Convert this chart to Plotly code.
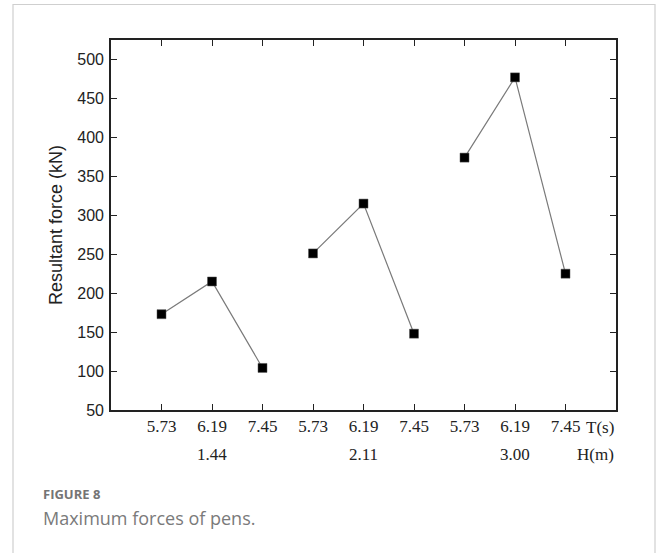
import plotly.graph_objects as go

# Wave period T (s) for each case, and the wave height H (m) group it belongs to
periods = ["5.73", "6.19", "7.45", "5.73", "6.19", "7.45", "5.73", "6.19", "7.45"]
heights = ["1.44", "2.11", "3.00"]
# Maximum resultant force on the pen (kN), three periods per wave height
force_h144 = [173, 215, 104]
force_h211 = [251, 315, 148]
force_h300 = [374, 477, 225]
y_ticks = [50, 100, 150, 200, 250, 300, 350, 400, 450, 500]

W, H = 656, 553
L, R, T, B = 111, 616, 40, 410  # plot area edges in px

def px(x):
    return (x - L) / (R - L)

def py(y):
    return (B - y) / (B - T)

fig = go.Figure()

groups = [force_h144, force_h211, force_h300]
for gi, vals in enumerate(groups):
    xs = [gi * 3 + k + 1 for k in range(len(vals))]
    fig.add_trace(go.Scatter(
        x=xs, y=vals, mode="lines+markers",
        line=dict(color="#7a7a7a", width=1.2),
        marker=dict(symbol="square", size=9, color="black",
                    line=dict(color="#555", width=0.5)),
        showlegend=False, hoverinfo="x+y",
    ))

serif = "Liberation Serif, Times New Roman, serif"
sans = "Liberation Sans, Arial, sans-serif"
cap = "Open Sans, sans-serif"

fig.update_xaxes(
    range=[0, 10], tickmode="array",
    tickvals=list(range(1, 10)), ticktext=periods,
    ticks="inside", ticklen=6, tickwidth=1.4, tickcolor="#222",
    showline=True, linecolor="#222", linewidth=1.6, mirror="ticks",
    showgrid=False, zeroline=False,
    tickfont=dict(family=serif, size=17, color="#222"),
)
fig.update_yaxes(
    range=[50, 525], tickmode="array", tickvals=y_ticks,
    ticks="inside", ticklen=6, tickwidth=1.4, tickcolor="#222",
    showline=True, linecolor="#222", linewidth=1.6, mirror="ticks",
    showgrid=False, zeroline=False,
    tickfont=dict(family=sans, size=16, color="#222"),
    ticklabelstandoff=2,
    title=dict(text="Resultant force (kN)", standoff=10,
               font=dict(family=sans, size=18, color="#222")),
)

annotations = [
    dict(x=10, y=py(427), xref="x", yref="paper", text="T(s)",
         showarrow=False, xanchor="right", yanchor="middle",
         font=dict(family=serif, size=17, color="#222")),
    dict(x=10, y=py(454), xref="x", yref="paper", text="H(m)",
         showarrow=False, xanchor="right", yanchor="middle",
         font=dict(family=serif, size=17, color="#222")),
]
for gi, h in enumerate(heights):
    annotations.append(dict(
        x=gi * 3 + 2, y=py(454), xref="x", yref="paper", text=h,
        showarrow=False, xanchor="center", yanchor="middle",
        font=dict(family=serif, size=17, color="#222")))

annotations += [
    dict(x=px(41), y=py(494), xref="paper", yref="paper", text="<b>FIGURE 8</b>",
         showarrow=False, xanchor="left", yanchor="middle",
         font=dict(family=cap, size=13, color="#747474")),
    dict(x=px(41), y=py(518), xref="paper", yref="paper",
         text="Maximum forces of pens.",
         showarrow=False, xanchor="left", yanchor="middle",
         font=dict(family=cap, size=18, color="#7a7a7a")),
]

shapes = [
    dict(type="rect", xref="paper", yref="paper",
         x0=px(13), x1=px(655), y0=py(600), y1=py(4.5),
         line=dict(color="#cfcfcf", width=1.2), fillcolor="rgba(0,0,0,0)",
         layer="below"),
]

fig.update_layout(
    width=W, height=H,
    margin=dict(l=L, r=W - R, t=T, b=H - B),
    paper_bgcolor="white", plot_bgcolor="white",
    annotations=annotations, shapes=shapes,
)

fig.write_html("out.html")
